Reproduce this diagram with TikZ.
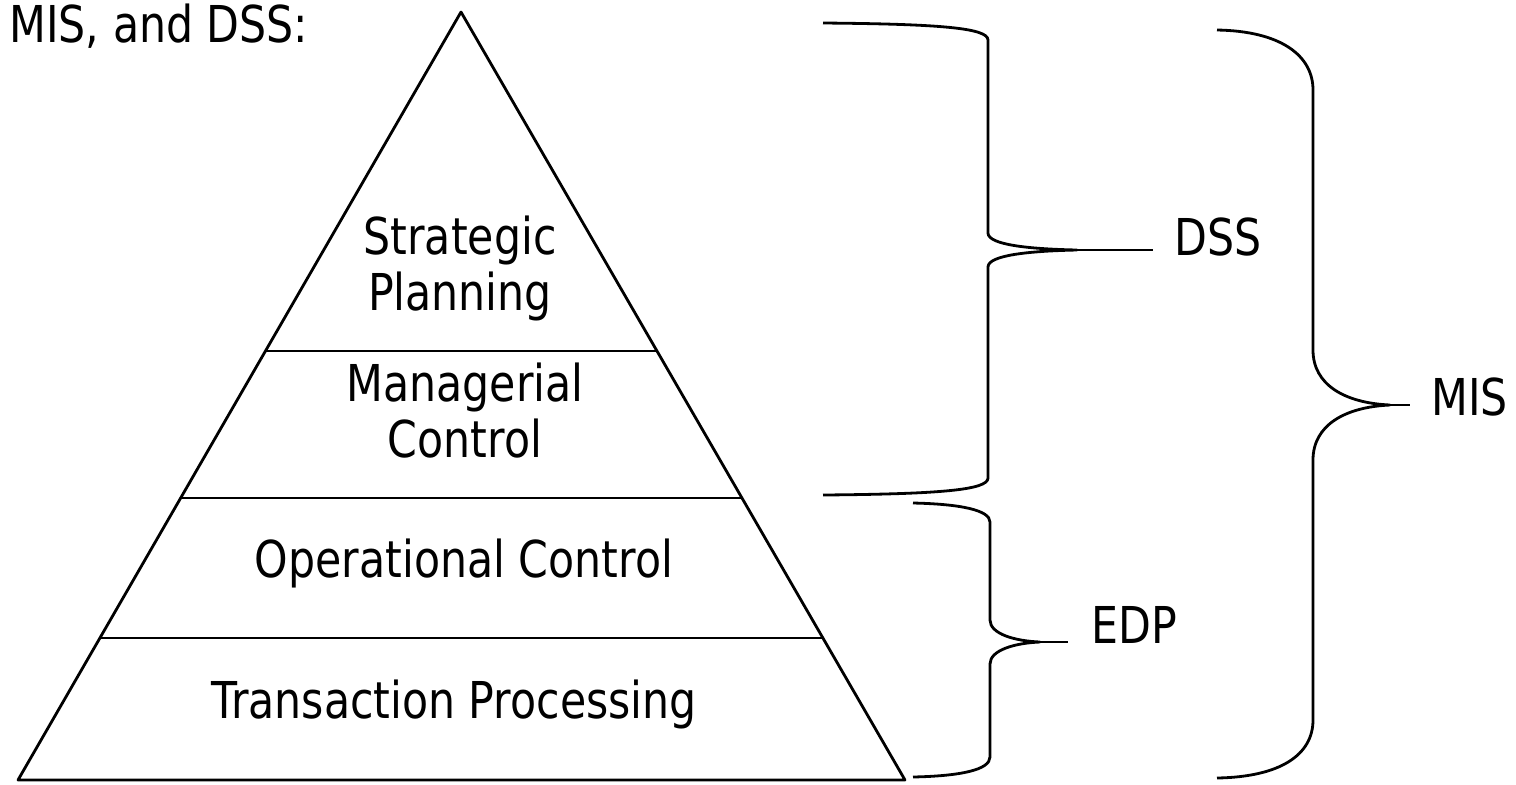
\documentclass[tikz,border=0pt]{standalone}
\usepackage{fontspec}
\setmainfont{DejaVu Sans}[FakeStretch=0.84]
\usetikzlibrary{calc}

\tikzset{
  level/.style={font=\fontsize{25.4}{28}\selectfont, align=center, anchor=base, inner sep=0pt},
  label/.style={level, anchor=base west},
}

\begin{document}
\begin{tikzpicture}[x=0.5pt, y=-0.5pt, line width=1.4pt, line join=round]
    \useasboundingbox (0, 0) rectangle (1516, 784);

    \coordinate (T) at (461, 12);
    \coordinate (L) at (18, 780);
    \coordinate (R) at (905, 780);

    % pyramid
    \draw (T) -- (L) -- (R) -- cycle;
    \draw ($(T)!0.4414!(L)$) -- ($(T)!0.4414!(R)$);
    \draw ($(T)!0.6328!(L)$) -- ($(T)!0.6328!(R)$);
    \draw ($(T)!0.8151!(L)$) -- ($(T)!0.8151!(R)$);

    % base anchor sits on the last line
    \node[level] (strat) at (460, 310) {Strategic\\Planning};
    \node[level] (manag) at (465, 457) {Managerial\\Control};
    \node[level] (oper) at (464, 577) {Operational Control};
    \node[level] (trans) at (454, 718) {Transaction Processing};

    \node[label] (title) at (8, 42) {MIS, and DSS:};
    \node[label] (dss) at (1173, 255) {DSS};
    \node[label] (edp) at (1090, 643) {EDP};
    \node[label] (mis) at (1430, 415) {MIS};

    % braces
    \coordinate (dss top) at (823, 23);
    \coordinate (dss tip) at (1077, 250);
    \coordinate (dss bot) at (823, 495);
    \draw (dss top) .. controls (940, 24) and (988, 28) .. (988, 40) -- (988, 233)
      .. controls (988, 245) and (1030, 249) .. (dss tip)
      .. controls (1030, 251) and (988, 255) .. (988, 267) -- (988, 478)
      .. controls (988, 490) and (940, 494) .. (dss bot);
    \draw[shorten >=10pt] (dss tip) -- (dss tip -| dss.west);

    \coordinate (edp top) at (913, 503);
    \coordinate (edp tip) at (1040, 642);
    \coordinate (edp bot) at (913, 777);
    \draw (edp top) .. controls (960, 504) and (990, 510) .. (990, 522) -- (990, 620)
      .. controls (990, 634) and (1015, 641) .. (edp tip)
      .. controls (1015, 643) and (990, 650) .. (990, 664) -- (990, 757)
      .. controls (990, 770) and (960, 776) .. (edp bot);
    \draw[shorten >=11pt] (edp tip) -- (edp tip -| edp.west);

    \coordinate (mis top) at (1217, 30);
    \coordinate (mis tip) at (1390, 405);
    \coordinate (mis bot) at (1217, 778);
    \draw (mis top) .. controls (1280, 31) and (1313, 55) .. (1313, 90) -- (1313, 350)
      .. controls (1313, 385) and (1345, 403) .. (mis tip)
      .. controls (1345, 407) and (1313, 425) .. (1313, 460) -- (1313, 720)
      .. controls (1313, 755) and (1280, 777) .. (mis bot);
    \draw[shorten >=10pt] (mis tip) -- (mis tip -| mis.west);

  \end{tikzpicture}
\end{document}
